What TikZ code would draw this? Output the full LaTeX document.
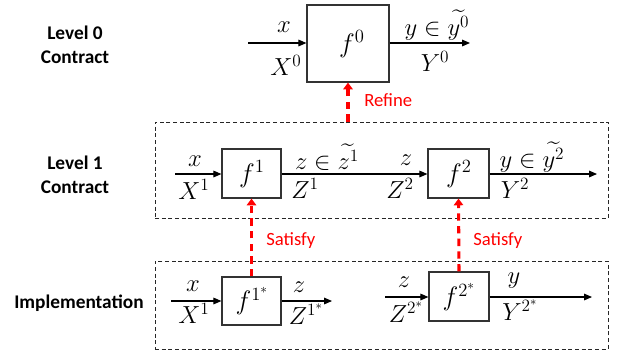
\RequirePackage{fix-cm}
\documentclass[tikz,border=0pt]{standalone}
\usepackage{amsmath}
\usepackage{fontspec}
\setmainfont{Carlito}
\usetikzlibrary{arrows.meta}
\tikzset{
  fbox/.style={draw=black!80,line width=0.9pt,fill=white,inner sep=0pt},
  lvlbox/.style={draw=black!85,line width=0.7pt,dash pattern=on 3pt off 2pt,inner sep=0pt},
  flow/.style={draw=black,line width=0.8pt,-{Triangle[length=6pt,width=5pt]}},
  redarr/.style={draw=red,line width=2.3pt,dash pattern=on 5.5pt off 4pt,-{Triangle[length=5pt,width=7pt]}},
  mlab/.style={font=\fontsize{18.5}{22}\selectfont,inner sep=0pt},
  flab/.style={font=\fontsize{20}{24}\selectfont,inner sep=0pt},
  rowlab/.style={font=\fontsize{14.5}{18}\selectfont\bfseries,align=center,inner sep=0pt},
  redlab/.style={font=\fontsize{14}{16}\selectfont,text=red,inner sep=0pt,anchor=west},
}
\begin{document}
\begin{tikzpicture}[x=0.75pt,y=-0.75pt]
\useasboundingbox (0,0) rectangle (628,354);

% row labels
\node[rowlab] (r0) at (75,45) {Level 0\\Contract};
\node[rowlab] (r1) at (75,174.5) {Level 1\\Contract};
\node[rowlab] (r2) at (79,303) {Implementation};

% dashed level boxes
\node[lvlbox,minimum width={453*0.75pt},minimum height={96*0.75pt}] (lvl1) at (381.5,170) {};
\node[lvlbox,minimum width={453*0.75pt},minimum height={88*0.75pt}] (impl) at (381.5,305) {};

% Level 0
\node[fbox,minimum width={82*0.75pt},minimum height={77*0.75pt}] (f0) at (348,43.5) {};
\node[flab] at (352,44) {$f^{0}$};
\coordinate (in0) at (248,43);
\coordinate (out0) at (470,43);
\draw[flow] (in0) -- (in0 -| f0.west);
\draw[flow] (out0 -| f0.east) -- (out0);
\node[mlab] (l0a) at (284,27) {$x$};
\node[mlab] (l0b) at (286,65) {$X^{0}$};
\node[mlab] (l0c) at (437,25) {$y\in\widetilde{y^{0}}$};
\node[mlab] (l0d) at (435,61) {$Y^{0}$};

% Level 1
\node[fbox,minimum width={59*0.75pt},minimum height={49*0.75pt}] (f1) at (251.5,173.5) {};
\node[flab] at (252,174) {$f^{1}$};
\node[fbox,minimum width={61*0.75pt},minimum height={49*0.75pt}] (f2) at (458.5,173.5) {};
\node[flab] at (459,174) {$f^{2}$};
\coordinate (in1) at (175,174);
\coordinate (out1) at (597,174);
\draw[flow] (in1) -- (in1 -| f1.west);
\draw[flow] (in1 -| f1.east) -- (in1 -| f2.west);
\draw[flow] (in1 -| f2.east) -- (out1);
\node[mlab] (l1a) at (195,161) {$x$};
\node[mlab] (l1b) at (194,189) {$X^{1}$};
\node[mlab] (l1c) at (327,157) {$z\in\widetilde{z^{1}}$};
\node[mlab] (l1d) at (305,188) {$Z^{1}$};
\node[mlab] (l1e) at (406,160) {$z$};
\node[mlab] (l1f) at (400,188) {$Z^{2}$};
\node[mlab] (l1g) at (532,157) {$y\in\widetilde{y^{2}}$};
\node[mlab] (l1h) at (515,188) {$Y^{2}$};

% Implementation
\node[fbox,minimum width={59*0.75pt},minimum height={48*0.75pt}] (f1s) at (251.5,301) {};
\node[flab] at (252,301) {$f^{1^{*}}$};
\node[fbox,minimum width={60*0.75pt},minimum height={49*0.75pt}] (f2s) at (459,296.5) {};
\node[flab] at (459,297) {$f^{2^{*}}$};
\coordinate (in1s) at (171,301);
\coordinate (out1s) at (332,301);
\coordinate (in2s) at (385,297);
\coordinate (out2s) at (592,297);
\draw[flow] (in1s) -- (in1s -| f1s.west);
\draw[flow] (in1s -| f1s.east) -- (out1s);
\draw[flow] (in2s) -- (in2s -| f2s.west);
\draw[flow] (in2s -| f2s.east) -- (out2s);
\node[mlab] (l2a) at (193,286) {$x$};
\node[mlab] (l2b) at (194,313) {$X^{1}$};
\node[mlab] (l2c) at (299,287) {$z$};
\node[mlab] (l2d) at (306,314) {$Z^{1^{*}}$};
\node[mlab] (l2e) at (404,282) {$z$};
\node[mlab] (l2f) at (406,312) {$Z^{2^{*}}$};
\node[mlab] (l2g) at (514,281) {$y$};
\node[mlab] (l2h) at (520,310) {$Y^{2^{*}}$};

% red refinement arrows
\draw[redarr] (lvl1.north -| f0.south) -- (f0.south);
\draw[redarr] (f1s.north) -- (f1.south);
\draw[redarr] (f2s.north) -- (f2.south);
\node[redlab] (t0) at (364,100) {Refine};
\node[redlab] (t1) at (266,241) {Satisfy};
\node[redlab] (t2) at (473,241) {Satisfy};
\end{tikzpicture}
\end{document}
